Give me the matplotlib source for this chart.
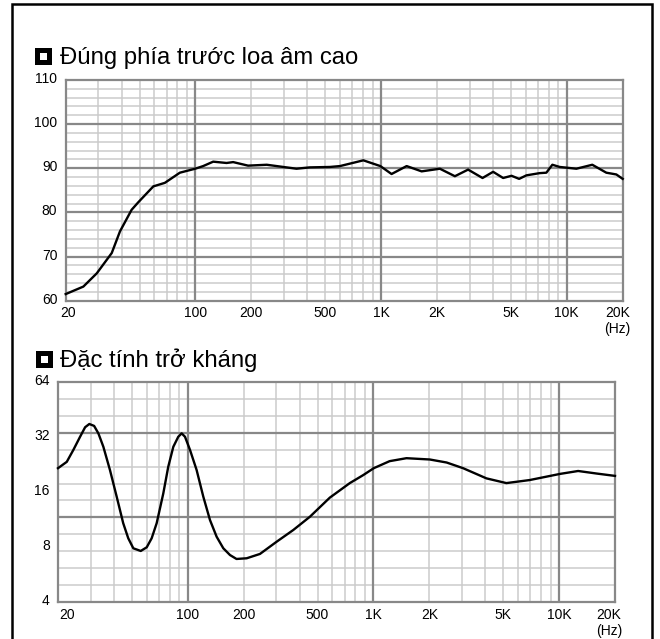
import numpy as np
import matplotlib
matplotlib.use('Agg')
from matplotlib import pyplot as plt
from matplotlib.patches import Rectangle
from matplotlib.transforms import ScaledTranslation

plt.rcParams['font.family'] = ['Liberation Sans', 'DejaVu Sans']

# frequency response (Hz, dB)
spl_freq = [20, 24.9, 29.4, 35.4, 39.2, 45.3, 49.2, 59.3, 68.4, 82.4, 99.6, 110, 124.6, 147,
            159.6, 192, 242, 350, 412, 530, 600, 802, 990, 1138, 1372, 1652, 2072, 2496,
            2940, 3516, 4010, 4540, 5040, 5536, 6060, 7140, 7760, 8360, 9160, 11260,
            13720, 16320, 18480, 20000]
spl_db = [61.5, 63.2, 66.2, 70.8, 75.7, 80.6, 82.3, 85.9, 86.7, 89.0, 89.9, 90.5, 91.5, 91.2,
          91.4, 90.6, 90.8, 89.9, 90.2, 90.3, 90.5, 91.8, 90.5, 88.7, 90.5, 89.3, 89.9, 88.2,
          89.7, 87.8, 89.2, 87.8, 88.3, 87.6, 88.4, 88.9, 89.0, 90.8, 90.3, 89.9,
          90.8, 89.0, 88.6, 87.6]

# impedance (Hz, ohm)
imp_freq = [20, 22.3, 24.2, 26.3, 28.0, 29.5, 31.3, 33.0, 35.1, 38.1, 41.4, 44.9, 47.8, 50.9,
            55.8, 60.1, 63.9, 68.0, 73.8, 78.5, 83.6, 88.9, 92.7, 96.6, 102.8, 111.6, 121.2,
            131.7, 143, 155.4, 168.8, 183, 207.6, 244.8, 301, 370, 455, 582, 746, 881, 1004,
            1222, 1506, 2012, 2479, 3040, 4060, 5200, 6940, 10120, 12660, 15880, 20000]
imp_ohm = [21.6, 23.4, 27.2, 32.1, 36.2, 37.7, 36.8, 33.5, 28.3, 21.1, 15.1, 10.8, 8.93, 7.87,
           7.61, 7.97, 8.93, 10.8, 15.7, 22.0, 28.3, 32.1, 33.5, 32.1, 27.2, 21.1, 15.1,
           11.24, 9.11, 7.87, 7.23, 6.88, 6.94, 7.33, 8.55, 9.91, 11.72, 14.9, 17.9, 19.8, 21.6,
           23.6, 24.5, 24.1, 23.2, 21.6, 19.0, 17.9, 18.6, 20.1, 20.85, 20.2, 19.6]

x_ticks = [20, 100, 200, 500, 1000, 2000, 5000, 10000, 20000]
x_labels = ['20', '100', '200', '500', '1K', '2K', '5K', '10K', '20K\n(Hz)']
spl_ticks = [60, 70, 80, 90, 100, 110]
imp_ticks = [4, 8, 16, 32, 64]

W, H = 660, 639
fig = plt.figure(figsize=(W / 100, H / 100), dpi=100)

LIGHT = '#cbcbcb'
DARK = '#888888'

minor_f = [30, 40, 50, 60, 70, 80, 90, 200, 300, 400, 500, 600, 700, 800, 900,
           2000, 3000, 4000, 5000, 6000, 7000, 8000, 9000]
major_f = [100, 1000, 10000]


def px(x0, y0, x1, y1):
    return [x0 / W, 1 - y1 / H, (x1 - x0) / W, (y1 - y0) / H]


def setup(ax, lab_dx0, lab_dx1):
    ax.set_xscale('log')
    ax.set_xlim(20, 20000)
    for f in minor_f:
        ax.axvline(f, color=LIGHT, lw=1.1, zorder=1)
    for f in major_f:
        ax.axvline(f, color=DARK, lw=1.6, zorder=2)
    for s in ax.spines.values():
        s.set_color(DARK)
        s.set_linewidth(1.6)
    ax.set_xticks(x_ticks)
    ax.set_xticklabels(x_labels, fontsize=10, linespacing=1.2)
    ax.xaxis.set_minor_locator(matplotlib.ticker.NullLocator())
    ax.tick_params(axis='both', length=0)
    ax.tick_params(axis='x', pad=4)
    ax.tick_params(axis='y', pad=6, labelsize=10)
    labs = ax.get_xticklabels()
    labs[0].set_transform(labs[0].get_transform() + ScaledTranslation(lab_dx0 / 100, 0, fig.dpi_scale_trans))
    labs[-1].set_transform(labs[-1].get_transform() + ScaledTranslation(lab_dx1 / 100, 0, fig.dpi_scale_trans))
    for lab in ax.get_yticklabels():
        lab.set_transform(lab.get_transform() + ScaledTranslation(0, 2.5 / 100, fig.dpi_scale_trans))


# top chart
ax1 = fig.add_axes(px(65.7, 80, 622.7, 300.7))
ax1.set_ylim(60, 110)
for v in range(62, 110, 2):
    if v % 10:
        ax1.axhline(v, color=LIGHT, lw=1.1, zorder=1)
for v in [70, 80, 90, 100]:
    ax1.axhline(v, color=DARK, lw=1.6, zorder=2)
ax1.set_yticks(spl_ticks)
setup(ax1, 2, -5)
ax1.plot(spl_freq, spl_db, color='black', lw=1.7, zorder=5, clip_on=False,
         solid_joinstyle='round')

# bottom chart
ax2 = fig.add_axes(px(58, 382, 615, 602))
ax2.set_yscale('log', base=2)
ax2.set_ylim(4, 64)
for i in range(1, 13):
    if i in (3, 8):
        continue
    ax2.axhline(4 * 16 ** (1 - i / 13), color=LIGHT, lw=1.1, zorder=1)
for i in (3, 8):
    ax2.axhline(4 * 16 ** (1 - i / 13), color=DARK, lw=1.6, zorder=2)
ax2.set_yticks(imp_ticks)
ax2.set_yticklabels([str(t) for t in imp_ticks])
ax2.yaxis.set_minor_locator(matplotlib.ticker.NullLocator())
setup(ax2, 9, -6)
ax2.plot(imp_freq, imp_ohm, color='black', lw=1.7, zorder=5, clip_on=False,
         solid_joinstyle='round')

# titles with square icons
for (sx, sy, tx, ty, txt) in [(35, 48, 60, 64, 'Đúng phía trước loa âm cao'),
                               (36, 351, 60, 367, 'Đặc tính trở kháng')]:
    fig.add_artist(Rectangle((sx / W, 1 - (sy + 16.5) / H), 17 / W, 16.5 / H,
                             transform=fig.transFigure, facecolor='black', edgecolor='none'))
    fig.add_artist(Rectangle(((sx + 5) / W, 1 - (sy + 11.5) / H), 7 / W, 6.5 / H,
                             transform=fig.transFigure, facecolor='white', edgecolor='none'))
    fig.text(tx / W, 1 - ty / H, txt, fontsize=17.2, va='baseline', ha='left')

# outer frame
fig.add_artist(Rectangle((12 / W, -0.02), 640 / W, 1.02 - 4 / H, transform=fig.transFigure,
                         fill=False, edgecolor='black', lw=1.8))

fig.savefig('out.png', dpi=100)
